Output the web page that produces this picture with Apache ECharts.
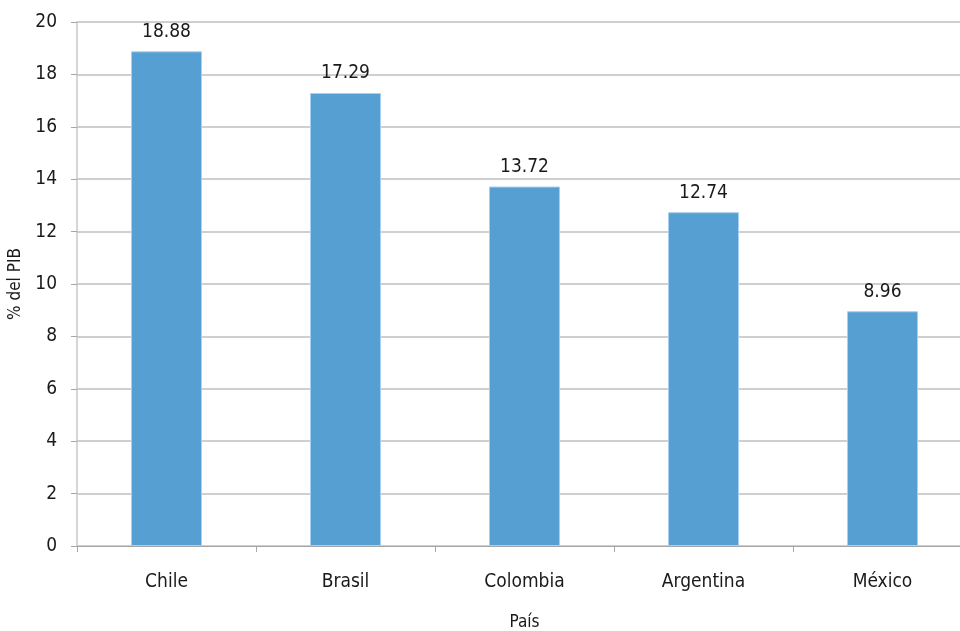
<!DOCTYPE html>
<html>
<head>
<meta charset="utf-8">
<script src="https://cdn.jsdelivr.net/npm/echarts@6/dist/echarts.min.js"></script>
<style>html,body{margin:0;padding:0;background:#fff;overflow:hidden;}#c{width:960px;height:631px;}</style>
</head>
<body>
<div id="c"></div>
<script>
var categories = ['Chile', 'Brasil', 'Colombia', 'Argentina', 'México'];
var values = [18.88, 17.29, 13.72, 12.74, 8.96];
var yAxisName = '% del PIB';
var xAxisName = 'País';
var FONT = "'DejaVu Sans Condensed', 'Liberation Sans Narrow', 'Roboto', sans-serif";

var chart = echarts.init(document.getElementById('c'));
chart.setOption({
  animation: false,
  textStyle: { fontFamily: FONT },
  grid: { left: 77, width: 895, top: 22, height: 524, containLabel: false, outerBoundsMode: 'none' },
  xAxis: {
    type: 'category',
    data: categories,
    name: xAxisName,
    nameLocation: 'middle',
    nameGap: 68,
    nameTextStyle: { fontSize: 17, color: '#1a1a1a', fontFamily: FONT },
    axisLine: { lineStyle: { color: '#a6a6a6', width: 1 } },
    axisTick: { show: true, length: 6, lineStyle: { color: '#a6a6a6' } },
    axisLabel: { fontSize: 19, color: '#1a1a1a', margin: 27, fontFamily: FONT }
  },
  yAxis: {
    type: 'value',
    min: 0,
    max: 20,
    interval: 2,
    name: yAxisName,
    nameLocation: 'middle',
    nameGap: 49,
    nameRotate: 90,
    nameTextStyle: { fontSize: 17, color: '#1a1a1a', fontFamily: FONT },
    axisLine: { show: true, lineStyle: { color: '#c8c8c8', width: 1.5 } },
    axisTick: { show: true, length: 6, lineStyle: { color: '#a6a6a6' } },
    axisLabel: { fontSize: 19, color: '#1a1a1a', margin: 20, fontFamily: FONT },
    splitLine: { show: true, lineStyle: { color: '#bfbfbf', width: 1.5 } }
  },
  series: [{
    type: 'bar',
    data: values,
    barWidth: 71,
    itemStyle: { color: '#559fd3', borderColor: '#a9cfee', borderWidth: 1 },
    label: {
      show: true,
      position: 'top',
      distance: 10,
      fontSize: 19,
      color: '#1a1a1a',
      fontFamily: FONT,
      formatter: function (p) { return p.value.toFixed(2); }
    }
  }]
});
</script>
</body>
</html>
